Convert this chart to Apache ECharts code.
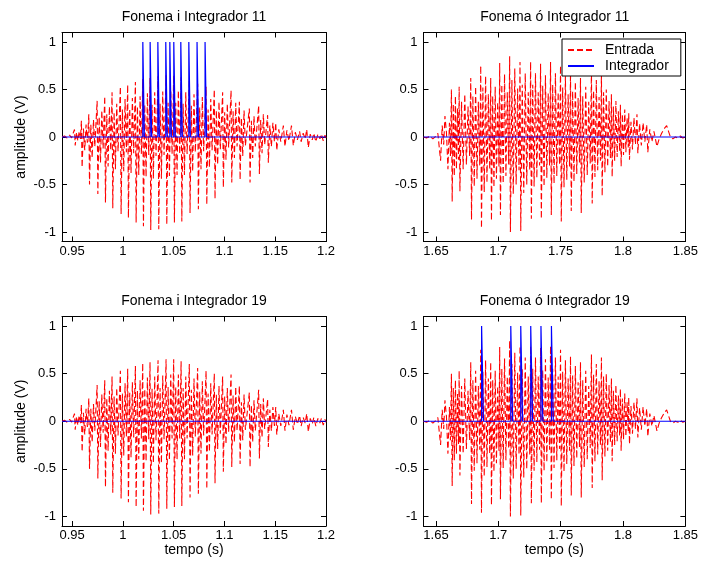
<!DOCTYPE html>
<html>
<head>
<meta charset="utf-8">
<script src="https://cdn.jsdelivr.net/npm/echarts@6/dist/echarts.min.js"></script>
<style>
  html, body { margin: 0; padding: 0; background: #fff; }
  #chart { width: 701px; height: 565px; }
</style>
</head>
<body>
<div id="chart"></div>
<script>
// Sinal de entrada do fonema "i": pares [tempo (s), amplitude (V)]
const entradaI = [
  [0.9400,0.00],[0.9425,0.01],[0.9450,-0.01],[0.9475,0.02],[0.9495,-0.01],[0.9510,0.04],
  [0.9523,0.08],[0.9530,-0.09],[0.9543,0.05],[0.9556,-0.04],[0.9569,0.06],[0.9582,-0.02],
  [0.9591,0.17],[0.9598,-0.32],[0.9611,0.09],[0.9624,-0.14],[0.9637,0.13],[0.9650,-0.06],
  [0.9664,0.24],[0.9671,-0.50],[0.9684,0.13],[0.9697,-0.22],[0.9710,0.18],[0.9723,-0.10],
  [0.9746,0.38],[0.9753,-0.60],[0.9766,0.21],[0.9779,-0.27],[0.9792,0.28],[0.9805,-0.12],
  [0.9821,0.43],[0.9828,-0.69],[0.9841,0.24],[0.9854,-0.31],[0.9867,0.32],[0.9880,-0.14],
  [0.9893,0.47],[0.9900,-0.75],[0.9913,0.26],[0.9926,-0.34],[0.9939,0.35],[0.9952,-0.15],
  [0.9975,0.53],[0.9982,-0.81],[0.9995,0.29],[1.0008,-0.36],[1.0021,0.40],[1.0034,-0.16],
  [1.0047,0.55],[1.0054,-0.85],[1.0067,0.30],[1.0080,-0.38],[1.0093,0.41],[1.0106,-0.17],
  [1.0123,0.58],[1.0130,-0.90],[1.0143,0.32],[1.0156,-0.40],[1.0169,0.43],[1.0182,-0.18],
  [1.0195,0.61],[1.0202,-0.94],[1.0215,0.34],[1.0228,-0.42],[1.0241,0.46],[1.0254,-0.19],
  [1.0267,0.62],[1.0274,-0.98],[1.0287,0.34],[1.0300,-0.44],[1.0313,0.47],[1.0326,-0.20],
  [1.0346,0.64],[1.0353,-0.97],[1.0366,0.35],[1.0379,-0.44],[1.0392,0.48],[1.0405,-0.19],
  [1.0425,0.65],[1.0432,-0.92],[1.0445,0.36],[1.0458,-0.41],[1.0471,0.49],[1.0484,-0.18],
  [1.0500,0.65],[1.0507,-0.90],[1.0520,0.36],[1.0533,-0.40],[1.0546,0.49],[1.0559,-0.18],
  [1.0573,0.63],[1.0580,-0.89],[1.0593,0.35],[1.0606,-0.40],[1.0619,0.47],[1.0632,-0.18],
  [1.0654,0.60],[1.0661,-0.80],[1.0674,0.33],[1.0687,-0.36],[1.0700,0.45],[1.0713,-0.16],
  [1.0736,0.56],[1.0743,-0.76],[1.0756,0.31],[1.0769,-0.34],[1.0782,0.42],[1.0795,-0.15],
  [1.0819,0.53],[1.0826,-0.71],[1.0839,0.29],[1.0852,-0.32],[1.0865,0.40],[1.0878,-0.14],
  [1.0900,0.50],[1.0907,-0.65],[1.0920,0.28],[1.0933,-0.29],[1.0946,0.37],[1.0959,-0.13],
  [1.0982,0.47],[1.0989,-0.53],[1.1002,0.26],[1.1015,-0.24],[1.1028,0.35],[1.1041,-0.11],
  [1.1065,0.49],[1.1072,-0.48],[1.1085,0.27],[1.1098,-0.22],[1.1111,0.36],[1.1124,-0.10],
  [1.1147,0.37],[1.1154,-0.45],[1.1167,0.20],[1.1180,-0.20],[1.1193,0.28],[1.1206,-0.09],
  [1.1245,0.30],[1.1252,-0.48],[1.1265,0.17],[1.1278,-0.22],[1.1291,0.22],[1.1304,-0.10],
  [1.1337,0.33],[1.1344,-0.39],[1.1357,0.18],[1.1370,-0.17],[1.1383,0.24],[1.1396,-0.08],
  [1.1425,0.23],[1.1432,-0.27],[1.1447,0.12],[1.1462,-0.10],[1.1477,0.15],[1.1492,-0.05],
  [1.1505,0.15],[1.1515,-0.14],[1.1535,0.08],[1.1555,-0.05],
  [1.1580,0.12],[1.1596,-0.10],[1.1615,0.07],[1.1635,-0.04],
  [1.1660,0.12],[1.1678,-0.09],[1.1698,0.05],[1.1718,-0.03],
  [1.1740,0.06],[1.1755,-0.05],[1.1775,0.04],[1.1795,-0.02],
  [1.1810,0.08],[1.1826,-0.11],[1.1845,0.03],[1.1865,-0.03],
  [1.1880,0.04],[1.1900,-0.05],[1.1920,0.03],[1.1940,-0.02],
  [1.1955,0.03],[1.1973,-0.04],[1.1990,0.02],[1.2000,-0.01]
];

// Sinal de entrada do fonema "ó"
const entradaO = [
  [1.6400,0.00],[1.6425,-0.01],[1.6450,0.01],[1.6475,-0.02],[1.6500,0.01],[1.6515,0.04],
  [1.6528,0.02],[1.6537,-0.25],[1.6550,0.12],[1.6562,-0.08],[1.6572,0.22],[1.6584,0.05],
  [1.6596,-0.34],[1.6608,0.15],[1.6616,-0.20],
  [1.6624,0.50],[1.6630,-0.68],[1.6639,0.35],[1.6647,-0.41],[1.6656,0.43],[1.6664,-0.34],[1.6673,0.30],[1.6681,-0.24],
  [1.6686,0.53],[1.6692,-0.57],[1.6705,0.37],[1.6718,-0.34],[1.6731,0.45],[1.6744,-0.29],[1.6757,0.32],[1.6770,-0.20],
  [1.6779,0.62],[1.6785,-0.87],[1.6796,0.43],[1.6807,-0.52],[1.6818,0.53],[1.6829,-0.44],[1.6840,0.37],[1.6851,-0.30],
  [1.6859,0.75],[1.6865,-0.96],[1.6876,0.52],[1.6887,-0.58],[1.6898,0.64],[1.6909,-0.48],[1.6920,0.45],[1.6931,-0.34],
  [1.6939,0.62],[1.6945,-0.88],[1.6955,0.43],[1.6965,-0.53],[1.6975,0.53],[1.6985,-0.44],[1.6995,0.37],[1.7005,-0.31],
  [1.7011,0.78],[1.7017,-0.82],[1.7028,0.55],[1.7039,-0.49],[1.7050,0.66],[1.7061,-0.41],[1.7072,0.47],[1.7083,-0.29],
  [1.7091,0.85],[1.7097,-1.00],[1.7109,0.60],[1.7120,-0.60],[1.7132,0.72],[1.7143,-0.50],[1.7155,0.51],[1.7166,-0.35],
  [1.7174,0.79],[1.7180,-0.99],[1.7192,0.55],[1.7204,-0.59],[1.7216,0.67],[1.7228,-0.50],[1.7240,0.47],[1.7252,-0.35],
  [1.7259,0.79],[1.7265,-0.86],[1.7276,0.55],[1.7287,-0.52],[1.7298,0.67],[1.7309,-0.43],[1.7320,0.47],[1.7331,-0.30],
  [1.7339,0.77],[1.7345,-0.86],[1.7356,0.54],[1.7367,-0.52],[1.7378,0.65],[1.7389,-0.43],[1.7400,0.46],[1.7411,-0.30],
  [1.7419,0.79],[1.7425,-0.82],[1.7436,0.55],[1.7447,-0.49],[1.7458,0.67],[1.7469,-0.41],[1.7480,0.47],[1.7491,-0.29],
  [1.7499,0.75],[1.7505,-0.89],[1.7516,0.52],[1.7527,-0.53],[1.7538,0.64],[1.7549,-0.45],[1.7560,0.45],[1.7571,-0.31],
  [1.7579,0.68],[1.7585,-0.78],[1.7596,0.48],[1.7607,-0.47],[1.7618,0.58],[1.7629,-0.39],[1.7640,0.41],[1.7651,-0.27],
  [1.7659,0.62],[1.7665,-0.80],[1.7677,0.43],[1.7689,-0.48],[1.7701,0.53],[1.7713,-0.40],[1.7725,0.37],[1.7737,-0.28],
  [1.7747,0.70],[1.7753,-0.70],[1.7764,0.49],[1.7775,-0.42],[1.7786,0.60],[1.7797,-0.35],[1.7808,0.42],[1.7819,-0.25],
  [1.7827,0.67],[1.7833,-0.62],[1.7844,0.47],[1.7855,-0.37],[1.7866,0.50],[1.7877,-0.31],[1.7888,0.38],[1.7899,-0.22],
  [1.7907,0.45],[1.7913,-0.42],[1.7923,0.32],[1.7933,-0.25],[1.7943,0.38],[1.7953,-0.21],[1.7963,0.27],[1.7973,-0.15],
  [1.7979,0.34],[1.7985,-0.31],[1.7995,0.24],[1.8004,-0.19],[1.8014,0.29],[1.8023,-0.16],[1.8033,0.20],[1.8042,-0.11],
  [1.8046,0.25],[1.8052,-0.24],[1.8064,0.16],[1.8076,-0.13],[1.8088,0.20],[1.8100,-0.08],
  [1.8112,0.24],[1.8119,-0.17],[1.8133,0.14],[1.8147,-0.09],[1.8161,0.15],[1.8175,-0.05],
  [1.8190,0.13],[1.8199,-0.16],[1.8215,0.08],[1.8232,-0.05],[1.8248,0.06],
  [1.8260,0.05],[1.8272,-0.10],[1.8290,-0.02],[1.8310,0.04],[1.8332,0.09],[1.8350,0.12],
  [1.8365,0.06],[1.8380,0.00],[1.8400,-0.02],[1.8420,0.00],[1.8440,-0.01],[1.8460,0.01],
  [1.8480,-0.01],[1.8500,0.00]
];

// Instantes (s) em que o integrador dispara (saida = 1)
const pulsosI11 = [1.0196, 1.0268, 1.0344, 1.0422, 1.0462, 1.0501, 1.0570, 1.0649, 1.0730, 1.0809];
const pulsosO11 = [];
const pulsosI19 = [];
const pulsosO19 = [1.6866, 1.7100, 1.7180, 1.7260, 1.7342, 1.7426];
const larguraPulso = 0.0015;

// Marcas dos eixos
const ticksTempoI = [0.95, 1, 1.05, 1.1, 1.15, 1.2];
const ticksTempoO = [1.65, 1.7, 1.75, 1.8, 1.85];
const ticksAmp = [-1, -0.5, 0, 0.5, 1];

const titulos = ['Fonema i Integrador 11', 'Fonema ó Integrador 11',
                 'Fonema i Integrador 19', 'Fonema ó Integrador 19'];

const FONTE = 'Liberation Sans, Arial, Helvetica, sans-serif';

// Saida do integrador: zero com pulsos retangulares de amplitude 1
function saidaIntegrador(pulsos, xmin, xmax) {
  const pts = [[xmin, 0]];
  pulsos.forEach(function (t) {
    pts.push([t, 0], [t, 1], [t + larguraPulso, 1], [t + larguraPulso, 0]);
  });
  pts.push([xmax, 0]);
  return pts;
}

const paineis = [
  { grid: { left: 62, top: 32.5, width: 264, height: 209 }, min: 0.94, max: 1.2, ticks: ticksTempoI, sinal: entradaI, pulsos: pulsosI11, yNome: true, xNome: false },
  { grid: { left: 423.5, top: 32.5, width: 262.5, height: 209 }, min: 1.64, max: 1.85, ticks: ticksTempoO, sinal: entradaO, pulsos: pulsosO11, yNome: false, xNome: false },
  { grid: { left: 62, top: 316.5, width: 264, height: 209.5 }, min: 0.94, max: 1.2, ticks: ticksTempoI, sinal: entradaI, pulsos: pulsosI19, yNome: true, xNome: true },
  { grid: { left: 423.5, top: 316.5, width: 262.5, height: 209.5 }, min: 1.64, max: 1.85, ticks: ticksTempoO, sinal: entradaO, pulsos: pulsosO19, yNome: false, xNome: true }
];

const grids = [], xAxes = [], yAxes = [], series = [], textos = [];

paineis.forEach(function (p, i) {
  grids.push(Object.assign({ containLabel: false }, p.grid));
  const linha = { show: true, onZero: false, lineStyle: { color: '#000', width: 1 } };
  [['bottom', true], ['top', false]].forEach(function (pos) {
    const ax = {
      type: 'value', gridIndex: i, position: pos[0], min: p.min, max: p.max,
      axisLine: linha,
      axisTick: { show: true, inside: true, length: 5, customValues: p.ticks, lineStyle: { color: '#000', width: 1 } },
      axisLabel: { show: pos[1], customValues: p.ticks, color: '#000', fontSize: 13, fontFamily: FONTE, margin: 3 },
      splitLine: { show: false }
    };
    if (pos[1] && p.xNome) {
      ax.name = 'tempo (s)';
      ax.nameLocation = 'middle';
      ax.nameGap = 17;
      ax.nameTextStyle = { color: '#000', fontSize: 14, fontFamily: FONTE };
    }
    xAxes.push(ax);
  });
  [['left', true], ['right', false]].forEach(function (pos) {
    const ay = {
      type: 'value', gridIndex: i, position: pos[0], min: -1.1, max: 1.1,
      axisLine: linha,
      axisTick: { show: true, inside: true, length: 5, customValues: ticksAmp, lineStyle: { color: '#000', width: 1 } },
      axisLabel: { show: pos[1], customValues: ticksAmp, color: '#000', fontSize: 13, fontFamily: FONTE, margin: 6 },
      splitLine: { show: false }
    };
    if (pos[1] && p.yNome) {
      ay.name = 'amplitude (V)';
      ay.nameLocation = 'middle';
      ay.nameGap = 34;
      ay.nameTextStyle = { color: '#000', fontSize: 14, fontFamily: FONTE };
    }
    yAxes.push(ay);
  });

  series.push({
    type: 'line', name: 'Entrada', xAxisIndex: 2 * i, yAxisIndex: 2 * i,
    data: p.sinal, symbol: 'none', clip: true, z: 2,
    itemStyle: { color: '#ff0000' },
    lineStyle: { color: '#ff0000', width: 1.1, type: [6, 3] }
  });
  series.push({
    type: 'line', name: 'Integrador', xAxisIndex: 2 * i, yAxisIndex: 2 * i,
    data: saidaIntegrador(p.pulsos, p.min, p.max), symbol: 'none', clip: true, z: 3,
    itemStyle: { color: '#0000ff' },
    lineStyle: { color: '#0000ff', width: 1.2 }
  });

  textos.push({
    type: 'text',
    x: p.grid.left + p.grid.width / 2, y: p.grid.top - 15.5,
    style: { text: titulos[i], fill: '#000', font: '14px ' + FONTE, textAlign: 'center', textVerticalAlign: 'middle' }
  });
});

const chart = echarts.init(document.getElementById('chart'), null, { renderer: 'canvas' });
chart.setOption({
  animation: false,
  backgroundColor: '#fff',
  grid: grids,
  xAxis: xAxes,
  yAxis: yAxes,
  series: series,
  graphic: textos,
  legend: {
    data: ['Entrada', 'Integrador'],
    orient: 'vertical', left: 562, top: 39,
    itemWidth: 26, itemHeight: 14, itemGap: 2, padding: [4, 12, 3, 5],
    borderColor: '#000', borderWidth: 1, backgroundColor: '#fff',
    selectedMode: false,
    itemStyle: { opacity: 0 },
    textStyle: { color: '#000', fontSize: 14, fontFamily: FONTE, padding: [0, 0, 0, 6] }
  }
});
</script>
</body>
</html>
